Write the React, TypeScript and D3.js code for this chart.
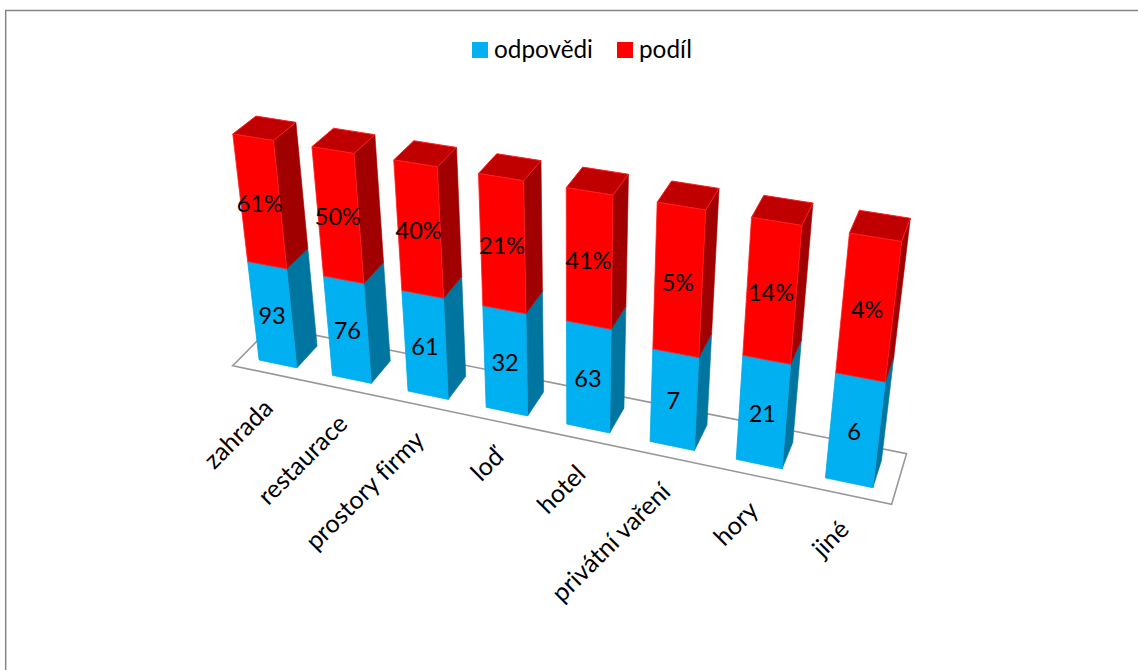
import * as d3 from "d3";

const categories = ["zahrada", "restaurace", "prostory firmy", "loď", "hotel", "privátní vaření", "hory", "jiné"];
const answers = [93, 76, 61, 32, 63, 7, 21, 6];
const sharePercent = [61, 50, 40, 21, 41, 5, 14, 4];
const seriesNames = ["odpovědi", "podíl"];

const WIDTH = 1138;
const HEIGHT = 670;
const FONT = "Lato, sans-serif";

// Camera of the 3D plot: floor plane (t along categories, v along depth) and vertical vanishing point.
const cam = {
  x: [259, 478, 27],
  y: [360, 66.4, -14],
  w: [1, -0.108, 0.022],
  vanish: [573, 3050],
  rise: 0.0775,
};

function project(t: number, v: number, h: number): [number, number] {
  const q = -cam.rise * h;
  const w = cam.w[0] + cam.w[1] * t + cam.w[2] * v + q;
  const x = cam.x[0] + cam.x[1] * t + cam.x[2] * v + q * cam.vanish[0];
  const y = cam.y[0] + cam.y[1] * t + cam.y[2] * v + q * cam.vanish[1];
  return [x / w, y / w];
}

const floorT: [number, number] = [-0.034, 1.107];
const floorV: [number, number] = [-0.42, 1.42];

const xBand = d3.scaleBand<string>().domain(categories).range(floorT).paddingInner(0.481).paddingOuter(0.2405);
const depthBand = d3.scaleBand<string>().domain(["stack"]).range(floorV).paddingInner(0).paddingOuter(0.42);
// Non-linear value axis of the 100% stack.
const valueAxis = d3.scaleLinear().domain([0, 0.583, 0.6, 0.606, 1]).range([0, 0.407, 0.452, 0.458, 1]);

const rows = categories.map((c, i) => ({ category: c, [seriesNames[0]]: answers[i], [seriesNames[1]]: sharePercent[i] }));
const stacked = d3.stack<any>().keys(seriesNames).offset(d3.stackOffsetExpand)(rows);

const palette = [
  { front: "#00B0F0", side: "#0075A0", top: "#00A0D8", edge: "#00A8E6" },
  { front: "#FF0000", side: "#A00000", top: "#C00000", edge: "#FF1E1E" },
];

const line = d3.line();
const face = (pts: [number, number][]) => (line(pts) as string) + "Z";

export default function App() {
  const v0 = depthBand("stack") as number;
  const v1 = v0 + depthBand.bandwidth();
  const floor = face([
    project(floorT[0], floorV[0], 0),
    project(floorT[1], floorV[0], 0),
    project(floorT[1], floorV[1], 0),
    project(floorT[0], floorV[1], 0),
  ]);

  return (
    <svg
      width={WIDTH}
      height={HEIGHT}
      style={{ position: "absolute", left: 0, top: 0, background: "#fff", fontVariantLigatures: "none" }}
      fontFamily={FONT}
    >
      <path d="M5.7,670V10.4H1138" fill="none" stroke="#868686" strokeWidth={1.5} />

      <g>
        <rect x={472} y={42} width={16} height={16} fill={palette[0].front} />
        <text x={494} y={58} fontSize={24.3} fill="#000">{seriesNames[0]}</text>
        <rect x={617} y={42} width={16} height={16} fill={palette[1].front} />
        <text x={639} y={58} fontSize={24.3} fill="#000">{seriesNames[1]}</text>
      </g>

      <path d={floor} fill="none" stroke="#989898" strokeWidth={1.6} />

      {categories.map((c, i) => {
        const t0 = xBand(c) as number;
        const t1 = t0 + xBand.bandwidth();
        return (
          <g key={c}>
            {stacked.map((s, k) => {
              const h0 = valueAxis(s[i][0]);
              const h1 = valueAxis(s[i][1]);
              const p = palette[k];
              const frontFace: [number, number][] = [project(t0, v0, h0), project(t1, v0, h0), project(t1, v0, h1), project(t0, v0, h1)];
              const sideFace: [number, number][] = [project(t1, v0, h0), project(t1, v1, h0), project(t1, v1, h1), project(t1, v0, h1)];
              const topFace: [number, number][] = [project(t0, v0, h1), project(t1, v0, h1), project(t1, v1, h1), project(t0, v1, h1)];
              return (
                <g key={s.key}>
                  <path d={face(sideFace)} fill={p.side} stroke={p.side} strokeWidth={0.6} />
                  {k === stacked.length - 1 && <path d={face(topFace)} fill={p.top} stroke={p.edge} strokeWidth={1} />}
                  <path d={face(frontFace)} fill={p.front} stroke={p.edge} strokeWidth={0.8} />
                </g>
              );
            })}
          </g>
        );
      })}

      {categories.map((c, i) => {
        const tc = (xBand(c) as number) + xBand.bandwidth() / 2;
        return stacked.map((s, k) => {
          const hm = (valueAxis(s[i][0]) + valueAxis(s[i][1])) / 2;
          const [x, y] = project(tc, v0, hm);
          const text = k === 0 ? String(answers[i]) : `${sharePercent[i]}%`;
          return (
            <text key={c + s.key} x={x - 0.5} y={y} fontSize={23.5} textAnchor="middle" dominantBaseline="central" fill="#000">
              {text}
            </text>
          );
        });
      })}

      {categories.map((c) => {
        const tc = (xBand(c) as number) + xBand.bandwidth() / 2;
        const [x, y] = project(tc, floorV[0], 0);
        return (
          <text
            key={c}
            transform={`translate(${x + 5.5},${y + 36.5}) rotate(-45)`}
            fontSize={25}
            textAnchor="end"
            fill="#000"
          >
            {c}
          </text>
        );
      })}
    </svg>
  );
}
